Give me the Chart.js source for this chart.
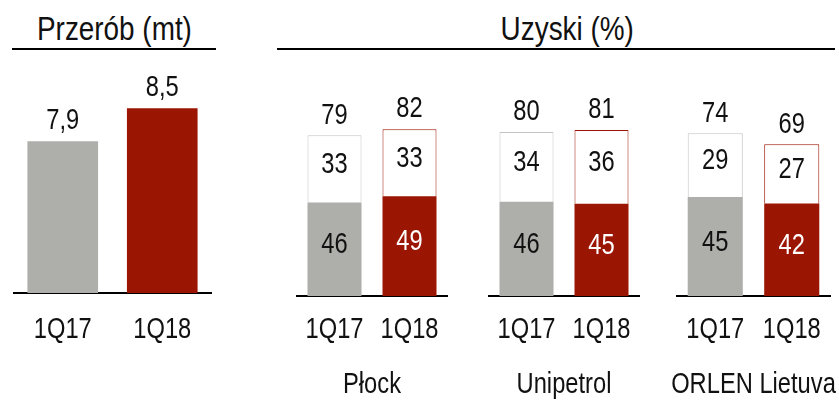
<!DOCTYPE html>
<html>
<head>
<meta charset="utf-8">
<script src="https://cdn.jsdelivr.net/npm/chart.js@4.4.1/dist/chart.umd.min.js"></script>
<style>
  html, body { margin: 0; padding: 0; background: #fff; }
  body { width: 839px; height: 403px; position: relative; overflow: hidden;
         font-family: 'Liberation Sans', Arial, sans-serif; }
  .head { position: absolute; top: 8px; height: 40px; line-height: 40px; font-size: 34px;
          color: #111; text-align: center; border-bottom: 2px solid #000; box-sizing: content-box; }
  .head span { display: inline-block; transform: scaleX(0.82); white-space: nowrap; }
  .box { position: absolute; top: 60px; height: 343px; }
</style>
</head>
<body>
<div class="head" style="left:12px; width:204px;"><span>Przerób (mt)</span></div>
<div class="head" style="left:277px; width:536px; padding-left:22px;"><span>Uzyski (%)</span></div>

<div class="box" style="left:13px; width:199px;"><canvas id="c0"></canvas></div>
<div class="box" style="left:277px; width:190px;"><canvas id="c1"></canvas></div>
<div class="box" style="left:469px; width:190px;"><canvas id="c2"></canvas></div>
<div class="box" style="left:657px; width:182px;"><canvas id="c3"></canvas></div>

<script>
// dane
const periods = ['1Q17', '1Q18'];
const przerob = [7.9, 8.5];
const refineries = ['Płock', 'Unipetrol', 'ORLEN Lietuva'];
// uzyski: dolna część (kolor) i górna część (biała)
const uzyskDolne = [[46, 49], [46, 45], [45, 42]];
const uzyskGorne = [[33, 33], [34, 36], [29, 27]];
const uzyskRazem = [[79, 82], [80, 81], [74, 69]];

const GRAY = '#aeaeaa';
const RED = '#9b1503';
const FONT = "'Liberation Sans', Arial, sans-serif";
const fmt = (v) => String(v).replace('.', ',');

// tekst zwężony (Arial Narrow)
function narrowText(ctx, s, x, y) {
  ctx.save();
  ctx.translate(x, y);
  ctx.scale(0.79, 1);
  ctx.fillText(s, 0, 0);
  ctx.restore();
}

// etykiety wartości, osi i nazw rafinerii
const labelsPlugin = {
  id: 'barLabels',
  afterDraw(chart, args, opts) {
    const ctx = chart.ctx;
    const xs = chart.scales.x;
    const base = chart.chartArea.bottom;
    ctx.save();
    ctx.font = `30px ${FONT}`;
    ctx.textAlign = 'center';
    ctx.textBaseline = 'middle';
    const n = chart.data.datasets.length;
    chart.data.datasets.forEach((ds, di) => {
      const meta = chart.getDatasetMeta(di);
      meta.data.forEach((el, i) => {
        if (opts.segments) {
          ctx.fillStyle = di === 0 && i === 1 ? '#fff' : '#111';
          narrowText(ctx, fmt(ds.data[i]), el.x, (el.y + el.base) / 2 - 4);
        }
        if (di === n - 1) {
          ctx.fillStyle = '#111';
          narrowText(ctx, fmt(opts.totals[i]), el.x, el.y - 20);
        }
      });
    });
    ctx.fillStyle = '#111';
    xs.getLabels().forEach((lab, i) => {
      narrowText(ctx, lab, xs.getPixelForValue(i), base + opts.tickOffset);
    });
    if (opts.group) {
      narrowText(ctx, opts.group, (chart.chartArea.left + chart.chartArea.right) / 2, base + 89);
    }
    ctx.restore();
  },
};

function baseOptions(yMin, yMax, barPct, axisH, padL, padR, plug) {
  return {
    responsive: true,
    maintainAspectRatio: false,
    animation: false,
    layout: { padding: { left: padL, right: padR, top: 0, bottom: 0 } },
    datasets: { bar: { categoryPercentage: 1, barPercentage: barPct } },
    scales: {
      x: {
        stacked: true,
        grid: { display: false },
        border: { display: true, color: '#000', width: 2 },
        ticks: { display: false },
        afterFit: (scale) => { scale.height = axisH; },
      },
      y: { stacked: true, display: false, min: yMin, max: yMax },
    },
    plugins: {
      legend: { display: false },
      tooltip: { enabled: false },
      barLabels: plug,
    },
  };
}

// Przerób
new Chart(document.getElementById('c0'), {
  type: 'bar',
  data: {
    labels: periods,
    datasets: [{ data: przerob, backgroundColor: [GRAY, RED], borderWidth: 0 }],
  },
  options: baseOptions(5.14, 9.376, 0.71, 110, 0, 0,
    { totals: przerob, segments: false, tickOffset: 37, group: null }),
  plugins: [labelsPlugin],
});

// Uzyski (każdy wykres ma własną skalę, jak w oryginale)
const padsRight = [20, 20, 9];
const yMaxes = [116, 115.2, 107.3];
refineries.forEach((name, r) => {
  new Chart(document.getElementById('c' + (r + 1)), {
    type: 'bar',
    data: {
      labels: periods,
      datasets: [
        { data: uzyskDolne[r], backgroundColor: [GRAY, RED], borderWidth: 0 },
        {
          data: uzyskGorne[r],
          backgroundColor: '#fff',
          borderColor: ['#c4c4c4', RED],
          borderWidth: 1,
          borderSkipped: 'bottom',
        },
      ],
    },
    options: baseOptions(0, yMaxes[r], 0.72, 107, 20, padsRight[r],
      { totals: uzyskRazem[r], segments: true, tickOffset: 34, group: name }),
    plugins: [labelsPlugin],
  });
});
</script>
</body>
</html>
